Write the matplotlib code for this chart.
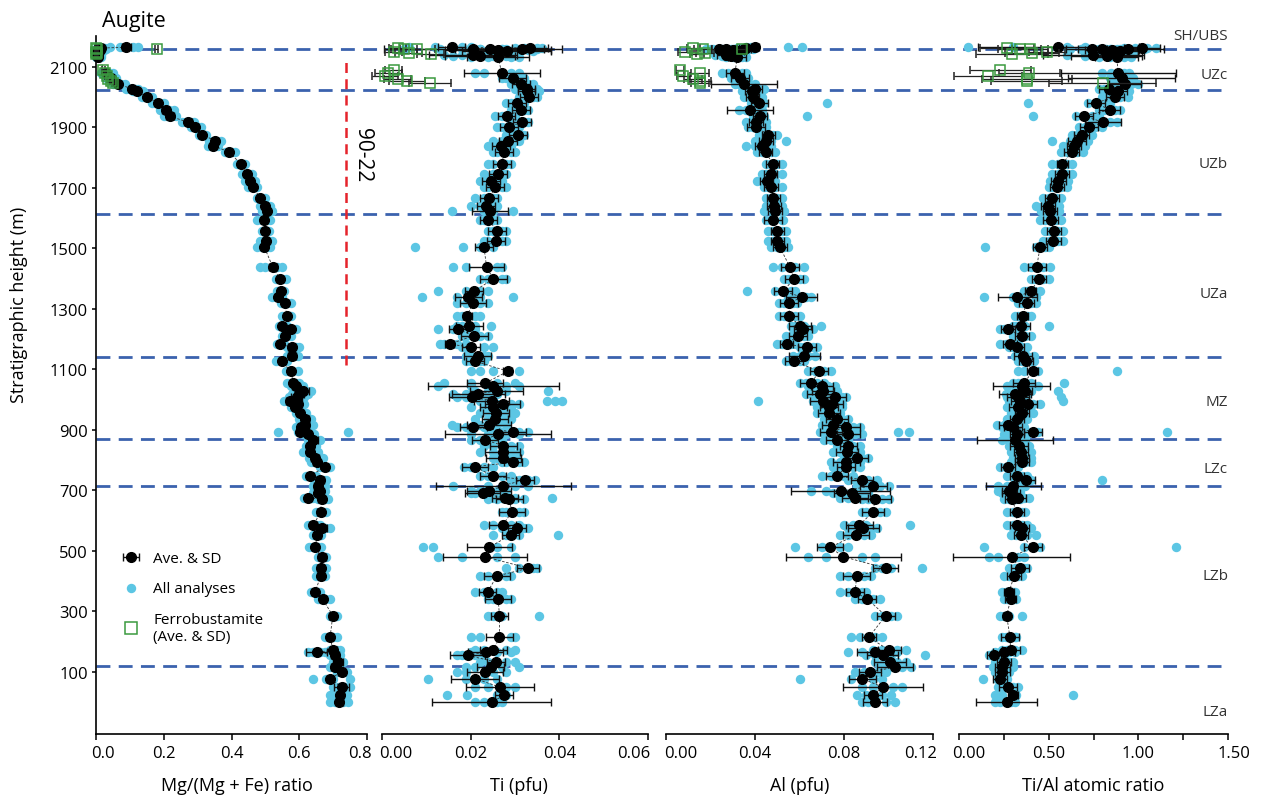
import matplotlib.pyplot as plt
from matplotlib.lines import Line2D
from matplotlib.transforms import ScaledTranslation

plt.rcParams['font.family'] = ['Open Sans', 'DejaVu Sans']

W, H = 1263, 803
CYAN = '#5cc6e4'
BLUE = '#3b62ae'
GREEN = '#3a9a3f'
RED = '#e5232b'

# stratigraphic height (m) of each augite sample (SH/UBS group first)
heights = [2165, 2162, 2160, 2160, 2158, 2156, 2154, 2140, 2136, 2132,
           2080, 2064, 2044, 2027, 2020, 2000, 1981, 1958, 1937, 1917,
           1901, 1876, 1856, 1840, 1818, 1779, 1746, 1724, 1702, 1667,
           1641, 1625, 1595, 1557, 1526, 1504, 1438, 1399, 1359, 1339,
           1319, 1278, 1243, 1232, 1212, 1184, 1173, 1146, 1127, 1094,
           1054, 1046, 1030, 1019, 1008, 997, 986, 975, 956, 936,
           917, 909, 894, 887, 867, 848, 828, 807, 793, 779,
           747, 736, 716, 697, 692, 674, 672, 628, 586, 575,
           553, 512, 481, 443, 417, 364, 341, 286, 215, 171,
           166, 155, 133, 116, 100, 78, 50, 23, 1]

# Mg/(Mg+Fe)
mg_ave = [0.090, 0.015, 0.010, 0.008, 0.005, 0.012, 0.003, 0.006, 0.004, 0.006,
          0.030, 0.045, 0.066, 0.105, 0.120, 0.150, 0.184, 0.206, 0.218, 0.272,
          0.292, 0.314, 0.351, 0.346, 0.394, 0.427, 0.447, 0.455, 0.464, 0.484,
          0.499, 0.504, 0.496, 0.499, 0.501, 0.497, 0.522, 0.543, 0.546, 0.536,
          0.558, 0.563, 0.550, 0.575, 0.558, 0.543, 0.578, 0.579, 0.548, 0.575,
          0.583, 0.590, 0.612, 0.600, 0.592, 0.573, 0.595, 0.587, 0.602, 0.617,
          0.617, 0.605, 0.602, 0.627, 0.642, 0.632, 0.632, 0.646, 0.651, 0.676,
          0.632, 0.661, 0.656, 0.660, 0.655, 0.627, 0.666, 0.663, 0.642, 0.666,
          0.653, 0.647, 0.666, 0.663, 0.663, 0.647, 0.669, 0.699, 0.691, 0.700,
          0.651, 0.705, 0.715, 0.705, 0.725, 0.691, 0.725, 0.720, 0.718]
mg_sd = [0.012, 0.008, 0.008, 0.006, 0.004, 0.010, 0.003, 0.005, 0.003, 0.004,
         0.006, 0.006, 0.008, 0.006, 0.007, 0.006, 0.008, 0.010, 0.012, 0.010,
         0.008, 0.006, 0.008, 0.009, 0.007, 0.008, 0.007, 0.006, 0.006, 0.006,
         0.008, 0.007, 0.009, 0.006, 0.008, 0.008, 0.012, 0.010, 0.008, 0.009,
         0.009, 0.007, 0.006, 0.007, 0.006, 0.006, 0.010, 0.012, 0.009, 0.008,
         0.008, 0.010, 0.016, 0.014, 0.015, 0.012, 0.010, 0.009, 0.010, 0.012,
         0.012, 0.010, 0.010, 0.009, 0.012, 0.008, 0.010, 0.012, 0.010, 0.008,
         0.010, 0.012, 0.012, 0.010, 0.009, 0.008, 0.010, 0.010, 0.010, 0.016,
         0.010, 0.009, 0.012, 0.010, 0.008, 0.008, 0.008, 0.010, 0.009, 0.010,
         0.030, 0.012, 0.014, 0.012, 0.010, 0.008, 0.021, 0.010, 0.010]
mg_all = [[0.04, 0.07, 0.11, 0.125], [0.005, 0.01, 0.02, 0.028], [0.0, 0.005, 0.015, 0.03],
          [0.0, 0.004, 0.012, 0.02], [0.0, 0.003, 0.008, 0.012], [0.0, 0.008, 0.018, 0.025],
          [0.0, 0.002, 0.005, 0.008], [0.0, 0.003, 0.01, 0.015], [0.0, 0.002, 0.006, 0.01],
          [0.0, 0.004, 0.009, 0.014],
          [0.015, 0.025, 0.04, 0.05], [0.03, 0.04, 0.055, 0.06], [0.05, 0.06, 0.075, 0.085],
          [0.09, 0.10, 0.115, 0.125], [0.11, 0.115, 0.13, 0.14], [0.135, 0.145, 0.16, 0.165],
          [0.165, 0.175, 0.19, 0.2], [0.19, 0.2, 0.215, 0.23], [0.2, 0.21, 0.225, 0.235],
          [0.255, 0.265, 0.28, 0.29], [0.28, 0.29, 0.3, 0.31], [0.305, 0.31, 0.32, 0.325],
          [0.335, 0.345, 0.355, 0.37], [0.33, 0.34, 0.35, 0.36], [0.38, 0.39, 0.4, 0.41],
          [0.415, 0.425, 0.43, 0.44], [0.43, 0.44, 0.45, 0.46], [0.44, 0.45, 0.46, 0.47],
          [0.45, 0.46, 0.47, 0.475], [0.475, 0.48, 0.49, 0.5], [0.485, 0.495, 0.505, 0.515],
          [0.49, 0.5, 0.51, 0.52], [0.475, 0.49, 0.505, 0.515], [0.49, 0.495, 0.505, 0.51],
          [0.485, 0.495, 0.51, 0.52], [0.475, 0.49, 0.505, 0.515], [0.485, 0.5, 0.535, 0.55],
          [0.53, 0.54, 0.55, 0.56], [0.535, 0.54, 0.55, 0.555], [0.52, 0.53, 0.545, 0.55],
          [0.545, 0.555, 0.565, 0.575], [0.55, 0.56, 0.57, 0.575], [0.54, 0.545, 0.56, 0.565],
          [0.56, 0.57, 0.58, 0.59], [0.55, 0.555, 0.565, 0.575], [0.535, 0.54, 0.55, 0.555],
          [0.565, 0.575, 0.59, 0.6], [0.565, 0.575, 0.585, 0.595], [0.53, 0.545, 0.555, 0.565],
          [0.56, 0.57, 0.58, 0.595], [0.565, 0.575, 0.59, 0.6], [0.575, 0.585, 0.6, 0.61],
          [0.595, 0.605, 0.62, 0.635], [0.58, 0.595, 0.61, 0.625], [0.57, 0.585, 0.6, 0.615],
          [0.555, 0.565, 0.58, 0.59], [0.58, 0.59, 0.605, 0.615], [0.575, 0.58, 0.595, 0.6],
          [0.59, 0.6, 0.61, 0.62], [0.6, 0.61, 0.625, 0.635], [0.6, 0.61, 0.625, 0.64],
          [0.59, 0.6, 0.615, 0.625], [0.538, 0.595, 0.61, 0.745], [0.61, 0.62, 0.635, 0.645],
          [0.625, 0.635, 0.65, 0.66], [0.62, 0.63, 0.64, 0.65], [0.61, 0.625, 0.64, 0.655],
          [0.63, 0.64, 0.655, 0.67], [0.635, 0.645, 0.66, 0.665], [0.66, 0.67, 0.685, 0.69],
          [0.62, 0.63, 0.64, 0.65], [0.645, 0.655, 0.67, 0.68], [0.64, 0.65, 0.665, 0.675],
          [0.645, 0.655, 0.665, 0.675], [0.64, 0.65, 0.66, 0.67], [0.615, 0.625, 0.635, 0.64],
          [0.655, 0.66, 0.675, 0.685], [0.65, 0.66, 0.67, 0.68], [0.625, 0.635, 0.65, 0.66],
          [0.655, 0.665, 0.675, 0.69], [0.64, 0.65, 0.66, 0.665], [0.63, 0.64, 0.655, 0.665],
          [0.655, 0.66, 0.675, 0.68], [0.65, 0.66, 0.67, 0.68], [0.65, 0.655, 0.67, 0.675],
          [0.635, 0.645, 0.655, 0.66], [0.655, 0.665, 0.675, 0.69], [0.69, 0.695, 0.705, 0.71],
          [0.675, 0.685, 0.7, 0.71], [0.69, 0.7, 0.71, 0.72], [0.625, 0.64, 0.66, 0.675],
          [0.69, 0.7, 0.71, 0.72], [0.7, 0.71, 0.72, 0.73], [0.69, 0.7, 0.71, 0.715],
          [0.71, 0.72, 0.73, 0.74], [0.64, 0.68, 0.7, 0.75], [0.7, 0.715, 0.735, 0.75],
          [0.69, 0.71, 0.73, 0.74], [0.69, 0.705, 0.73, 0.745]]

# Ti (pfu)
ti_ave = [0.0157, 0.0334, 0.0205, 0.0315, 0.0244, 0.0262, 0.0281, 0.0205, 0.0221, 0.0262,
          0.0270, 0.0295, 0.0313, 0.0326, 0.0326, 0.0332, 0.0304, 0.0313, 0.0281, 0.0315,
          0.0287, 0.0306, 0.0285, 0.0268, 0.0276, 0.0270, 0.0261, 0.0246, 0.0255, 0.0242,
          0.0235, 0.0244, 0.0240, 0.0260, 0.0257, 0.0230, 0.0236, 0.0251, 0.0208, 0.0195,
          0.0205, 0.0192, 0.0197, 0.0171, 0.0208, 0.0153, 0.0200, 0.0216, 0.0210, 0.0284,
          0.0232, 0.0251, 0.0259, 0.0217, 0.0202, 0.0247, 0.0272, 0.0251, 0.0257, 0.0255,
          0.0242, 0.0206, 0.0295, 0.0262, 0.0232, 0.0274, 0.0272, 0.0274, 0.0296, 0.0210,
          0.0250, 0.0323, 0.0274, 0.0242, 0.0227, 0.0277, 0.0287, 0.0293, 0.0272, 0.0304,
          0.0290, 0.0242, 0.0232, 0.0330, 0.0259, 0.0238, 0.0262, 0.0265, 0.0265, 0.0251,
          0.0234, 0.0193, 0.0257, 0.0245, 0.0232, 0.0210, 0.0266, 0.0276, 0.0247]
ti_sd = [0.003, 0.004, 0.020, 0.005, 0.008, 0.012, 0.010, 0.010, 0.008, 0.007,
         0.0086, 0.003, 0.002, 0.002, 0.002, 0.002, 0.002, 0.002, 0.002, 0.002,
         0.002, 0.002, 0.002, 0.002, 0.002, 0.002, 0.002, 0.002, 0.002, 0.002,
         0.002, 0.004, 0.002, 0.002, 0.002, 0.002, 0.004, 0.003, 0.002, 0.003,
         0.003, 0.001, 0.003, 0.002, 0.003, 0.001, 0.002, 0.003, 0.002, 0.001,
         0.004, 0.0148, 0.006, 0.006, 0.005, 0.004, 0.004, 0.003, 0.003, 0.003,
         0.005, 0.003, 0.003, 0.012, 0.003, 0.003, 0.004, 0.004, 0.002, 0.003,
         0.003, 0.002, 0.0153, 0.005, 0.004, 0.003, 0.003, 0.003, 0.003, 0.002,
         0.002, 0.0051, 0.0094, 0.0025, 0.003, 0.002, 0.003, 0.002, 0.003, 0.003,
         0.004, 0.004, 0.002, 0.003, 0.004, 0.0055, 0.0076, 0.002, 0.0135]
ti_all = [[0.006, 0.012, 0.018, 0.020], [0.030, 0.032, 0.035, 0.036], [0.005, 0.013, 0.022, 0.027],
          [0.028, 0.030, 0.033, 0.035], [0.018, 0.022, 0.027, 0.030], [0.020, 0.024, 0.030, 0.033],
          [0.022, 0.026, 0.031, 0.034], [0.014, 0.018, 0.023, 0.026], [0.016, 0.020, 0.025, 0.028],
          [0.020, 0.024, 0.029, 0.031],
          [0.021, 0.023, 0.029, 0.031], [0.027, 0.028, 0.031, 0.032], [0.029, 0.030, 0.033, 0.034],
          [0.030, 0.031, 0.034, 0.035], [0.031, 0.032, 0.034, 0.0355], [0.031, 0.032, 0.034, 0.035],
          [0.028, 0.029, 0.031, 0.032], [0.029, 0.030, 0.032, 0.033], [0.0255, 0.027, 0.029, 0.030],
          [0.029, 0.030, 0.032, 0.033], [0.026, 0.027, 0.030, 0.031], [0.028, 0.029, 0.031, 0.032],
          [0.025, 0.027, 0.030, 0.031], [0.024, 0.026, 0.028, 0.029], [0.025, 0.026, 0.029, 0.030],
          [0.024, 0.025, 0.028, 0.029], [0.023, 0.025, 0.027, 0.028], [0.022, 0.023, 0.026, 0.027],
          [0.023, 0.024, 0.027, 0.028], [0.021, 0.023, 0.025, 0.026], [0.020, 0.022, 0.025, 0.026],
          [0.0157, 0.023, 0.025, 0.0296], [0.022, 0.023, 0.025, 0.026], [0.024, 0.025, 0.027, 0.028],
          [0.023, 0.024, 0.027, 0.028], [0.0074, 0.0183, 0.022, 0.025], [0.016, 0.019, 0.026, 0.027],
          [0.022, 0.024, 0.027, 0.028], [0.0127, 0.019, 0.022, 0.024], [0.009, 0.017, 0.022, 0.0296],
          [0.017, 0.019, 0.022, 0.024], [0.017, 0.018, 0.021, 0.022], [0.017, 0.018, 0.021, 0.0245],
          [0.0127, 0.016, 0.019, 0.021], [0.018, 0.019, 0.022, 0.024], [0.013, 0.014, 0.017, 0.019],
          [0.018, 0.019, 0.023, 0.025], [0.019, 0.020, 0.023, 0.024], [0.019, 0.020, 0.022, 0.023],
          [0.020, 0.022, 0.025, 0.031], [0.014, 0.020, 0.026, 0.030], [0.0127, 0.020, 0.028, 0.031],
          [0.021, 0.024, 0.028, 0.0375], [0.016, 0.019, 0.024, 0.026], [0.017, 0.019, 0.023, 0.025],
          [0.022, 0.0372, 0.039, 0.0405], [0.024, 0.026, 0.029, 0.031], [0.020, 0.023, 0.027, 0.029],
          [0.022, 0.024, 0.028, 0.030], [0.021, 0.024, 0.027, 0.029], [0.0157, 0.022, 0.026, 0.028],
          [0.017, 0.019, 0.023, 0.025], [0.025, 0.027, 0.031, 0.033], [0.020, 0.024, 0.028, 0.031],
          [0.020, 0.022, 0.025, 0.027], [0.023, 0.025, 0.029, 0.031], [0.022, 0.025, 0.029, 0.031],
          [0.025, 0.026, 0.029, 0.0305], [0.027, 0.028, 0.031, 0.032], [0.0185, 0.020, 0.023, 0.025],
          [0.022, 0.024, 0.027, 0.029], [0.029, 0.031, 0.033, 0.0345], [0.016, 0.024, 0.030, 0.033],
          [0.020, 0.022, 0.026, 0.028], [0.020, 0.021, 0.025, 0.027], [0.025, 0.027, 0.030, 0.0383],
          [0.024, 0.026, 0.030, 0.032], [0.027, 0.028, 0.031, 0.032], [0.023, 0.025, 0.029, 0.031],
          [0.027, 0.029, 0.032, 0.033], [0.025, 0.028, 0.031, 0.0396], [0.0093, 0.0116, 0.026, 0.029],
          [0.0127, 0.018, 0.026, 0.030], [0.028, 0.031, 0.034, 0.035], [0.022, 0.024, 0.028, 0.029],
          [0.021, 0.023, 0.026, 0.027], [0.024, 0.025, 0.028, 0.029], [0.024, 0.025, 0.027, 0.0355],
          [0.020, 0.022, 0.029, 0.030], [0.021, 0.023, 0.028, 0.030], [0.020, 0.022, 0.026, 0.029],
          [0.017, 0.018, 0.021, 0.023], [0.022, 0.024, 0.028, 0.030], [0.019, 0.021, 0.027, 0.031],
          [0.017, 0.019, 0.025, 0.028], [0.0104, 0.019, 0.023, 0.026], [0.021, 0.024, 0.028, 0.030],
          [0.0147, 0.0192, 0.026, 0.028], [0.021, 0.023, 0.026, 0.027]]

# Al (pfu)
al_ave = [0.040, 0.036, 0.024, 0.035, 0.027, 0.030, 0.032, 0.027, 0.029, 0.032,
          0.0310, 0.0333, 0.0350, 0.0400, 0.0385, 0.0390, 0.0420, 0.0378, 0.0422, 0.0404,
          0.0404, 0.0460, 0.0450, 0.0430, 0.0448, 0.0480, 0.0470, 0.0453, 0.0472, 0.0482,
          0.0485, 0.0490, 0.0480, 0.0500, 0.0500, 0.0512, 0.0557, 0.0575, 0.0527, 0.0610,
          0.0554, 0.0554, 0.0602, 0.0617, 0.0595, 0.0542, 0.0632, 0.0622, 0.0577, 0.0689,
          0.0652, 0.0700, 0.0707, 0.0692, 0.0760, 0.0707, 0.0745, 0.0734, 0.0734, 0.0767,
          0.0750, 0.0810, 0.0742, 0.0820, 0.0767, 0.0820, 0.0812, 0.0857, 0.0810, 0.0810,
          0.0770, 0.0880, 0.0932, 0.0785, 0.0835, 0.0850, 0.0940, 0.0930, 0.0869, 0.0887,
          0.0854, 0.0737, 0.0797, 0.0987, 0.0857, 0.0850, 0.0905, 0.0987, 0.0912, 0.1004,
          0.0940, 0.0974, 0.1007, 0.1029, 0.0917, 0.0882, 0.0974, 0.0929, 0.0940]
al_sd = [0.002, 0.003, 0.004, 0.003, 0.004, 0.003, 0.003, 0.004, 0.003, 0.004,
         0.004, 0.004, 0.015, 0.003, 0.003, 0.003, 0.004, 0.0105, 0.003, 0.003,
         0.004, 0.003, 0.003, 0.003, 0.003, 0.003, 0.003, 0.003, 0.003, 0.003,
         0.003, 0.003, 0.004, 0.003, 0.003, 0.003, 0.004, 0.004, 0.004, 0.007,
         0.004, 0.004, 0.005, 0.004, 0.004, 0.003, 0.004, 0.007, 0.004, 0.004,
         0.005, 0.005, 0.005, 0.006, 0.005, 0.006, 0.005, 0.004, 0.005, 0.005,
         0.005, 0.006, 0.005, 0.005, 0.005, 0.004, 0.005, 0.005, 0.006, 0.004,
         0.005, 0.005, 0.006, 0.0223, 0.008, 0.006, 0.007, 0.005, 0.006, 0.007,
         0.006, 0.006, 0.0258, 0.0055, 0.006, 0.004, 0.004, 0.004, 0.003, 0.005,
         0.008, 0.007, 0.007, 0.008, 0.005, 0.006, 0.018, 0.004, 0.0055]
al_all = [[0.036, 0.038, 0.055, 0.061], [0.032, 0.034, 0.038, 0.040], [0.018, 0.021, 0.027, 0.029],
          [0.031, 0.033, 0.037, 0.039], [0.020, 0.025, 0.030, 0.032], [0.026, 0.028, 0.032, 0.034],
          [0.028, 0.030, 0.034, 0.036], [0.022, 0.025, 0.030, 0.032], [0.025, 0.027, 0.031, 0.034],
          [0.027, 0.030, 0.034, 0.036],
          [0.025, 0.028, 0.034, 0.036], [0.029, 0.031, 0.035, 0.037], [0.031, 0.033, 0.037, 0.040],
          [0.036, 0.038, 0.042, 0.044], [0.034, 0.037, 0.040, 0.042], [0.035, 0.037, 0.041, 0.043],
          [0.038, 0.040, 0.044, 0.0725], [0.033, 0.036, 0.040, 0.043], [0.039, 0.041, 0.044, 0.0635],
          [0.036, 0.039, 0.042, 0.045], [0.037, 0.039, 0.043, 0.045], [0.042, 0.044, 0.048, 0.050],
          [0.040, 0.043, 0.047, 0.054], [0.036, 0.040, 0.045, 0.047], [0.041, 0.043, 0.047, 0.049],
          [0.045, 0.047, 0.050, 0.052], [0.043, 0.045, 0.049, 0.052], [0.041, 0.044, 0.047, 0.049],
          [0.044, 0.046, 0.049, 0.052], [0.045, 0.047, 0.050, 0.052], [0.045, 0.047, 0.050, 0.052],
          [0.044, 0.047, 0.051, 0.053], [0.045, 0.047, 0.052, 0.0527], [0.046, 0.048, 0.052, 0.054],
          [0.046, 0.048, 0.052, 0.054], [0.047, 0.050, 0.053, 0.055], [0.048, 0.052, 0.058, 0.062],
          [0.053, 0.055, 0.060, 0.062], [0.0363, 0.049, 0.056, 0.058], [0.055, 0.058, 0.063, 0.065],
          [0.051, 0.053, 0.057, 0.059], [0.051, 0.053, 0.058, 0.060], [0.056, 0.058, 0.062, 0.0695],
          [0.057, 0.059, 0.064, 0.066], [0.054, 0.057, 0.062, 0.064], [0.050, 0.052, 0.056, 0.058],
          [0.060, 0.062, 0.066, 0.068], [0.057, 0.060, 0.064, 0.067], [0.054, 0.056, 0.060, 0.062],
          [0.064, 0.067, 0.071, 0.074], [0.060, 0.063, 0.068, 0.071], [0.064, 0.067, 0.073, 0.076],
          [0.065, 0.068, 0.074, 0.077], [0.063, 0.066, 0.072, 0.075], [0.070, 0.073, 0.079, 0.081],
          [0.0415, 0.066, 0.074, 0.077], [0.069, 0.072, 0.077, 0.079], [0.068, 0.071, 0.076, 0.079],
          [0.068, 0.071, 0.076, 0.078], [0.071, 0.074, 0.079, 0.082], [0.070, 0.073, 0.078, 0.080],
          [0.075, 0.078, 0.084, 0.087], [0.069, 0.072, 0.1044, 0.1093], [0.076, 0.079, 0.085, 0.088],
          [0.071, 0.074, 0.079, 0.082], [0.077, 0.080, 0.084, 0.087], [0.075, 0.078, 0.084, 0.087],
          [0.080, 0.083, 0.088, 0.091], [0.074, 0.078, 0.084, 0.087], [0.075, 0.078, 0.084, 0.087],
          [0.070, 0.074, 0.080, 0.084], [0.082, 0.085, 0.091, 0.095], [0.086, 0.090, 0.096, 0.100],
          [0.065, 0.072, 0.085, 0.090], [0.075, 0.080, 0.087, 0.091], [0.078, 0.082, 0.088, 0.092],
          [0.088, 0.091, 0.097, 0.100], [0.088, 0.090, 0.096, 0.099], [0.080, 0.084, 0.090, 0.1097],
          [0.082, 0.086, 0.092, 0.095], [0.078, 0.082, 0.089, 0.092], [0.058, 0.070, 0.078, 0.082],
          [0.064, 0.072, 0.088, 0.094], [0.094, 0.097, 0.101, 0.115], [0.078, 0.082, 0.089, 0.092],
          [0.078, 0.082, 0.088, 0.090], [0.085, 0.088, 0.093, 0.096], [0.094, 0.097, 0.101, 0.104],
          [0.083, 0.087, 0.094, 0.097], [0.093, 0.097, 0.104, 0.108], [0.082, 0.088, 0.099, 0.104],
          [0.090, 0.094, 0.101, 0.1164], [0.094, 0.098, 0.104, 0.108], [0.096, 0.100, 0.106, 0.110],
          [0.085, 0.089, 0.095, 0.099], [0.060, 0.083, 0.093, 0.097], [0.088, 0.093, 0.102, 0.106],
          [0.086, 0.090, 0.097, 0.101], [0.088, 0.091, 0.099, 0.103]]

# Ti/Al atomic ratio
tial_ave = [0.554, 1.019, 0.743, 0.944, 0.796, 0.851, 0.898, 0.749, 0.823, 0.879,
            0.888, 0.907, 0.926, 0.838, 0.888, 0.870, 0.762, 0.840, 0.697, 0.805,
            0.727, 0.684, 0.656, 0.641, 0.628, 0.576, 0.573, 0.554, 0.545, 0.517,
            0.498, 0.507, 0.511, 0.530, 0.526, 0.452, 0.433, 0.446, 0.400, 0.325,
            0.377, 0.355, 0.344, 0.275, 0.350, 0.284, 0.322, 0.355, 0.374, 0.411,
            0.362, 0.350, 0.368, 0.312, 0.330, 0.340, 0.386, 0.331, 0.350, 0.322,
            0.275, 0.300, 0.411, 0.322, 0.312, 0.336, 0.344, 0.350, 0.350, 0.275,
            0.325, 0.372, 0.303, 0.281, 0.290, 0.331, 0.294, 0.322, 0.322, 0.350,
            0.346, 0.411, 0.294, 0.340, 0.307, 0.279, 0.288, 0.266, 0.284, 0.288,
            0.251, 0.195, 0.251, 0.242, 0.242, 0.229, 0.273, 0.301, 0.266]
tial_sd = [0.45, 0.10, 0.08, 0.20, 0.20, 0.15, 0.10, 0.28, 0.20, 0.12,
           0.32, 0.30, 0.09, 0.06, 0.05, 0.05, 0.05, 0.06, 0.05, 0.10,
           0.05, 0.04, 0.05, 0.04, 0.04, 0.03, 0.04, 0.04, 0.04, 0.04,
           0.04, 0.04, 0.04, 0.04, 0.04, 0.04, 0.05, 0.04, 0.03, 0.11,
           0.04, 0.03, 0.05, 0.04, 0.04, 0.04, 0.04, 0.05, 0.04, 0.03,
           0.06, 0.16, 0.04, 0.09, 0.06, 0.05, 0.05, 0.05, 0.04, 0.04,
           0.05, 0.05, 0.05, 0.04, 0.21, 0.05, 0.04, 0.04, 0.04, 0.04,
           0.04, 0.05, 0.155, 0.04, 0.05, 0.04, 0.04, 0.04, 0.04, 0.04,
           0.04, 0.05, 0.327, 0.05, 0.04, 0.03, 0.03, 0.02, 0.05, 0.05,
           0.06, 0.04, 0.04, 0.04, 0.04, 0.04, 0.05, 0.03, 0.169]
tial_all = [[0.05, 0.30, 0.60, 0.70], [0.92, 0.98, 1.05, 1.10], [0.62, 0.68, 0.78, 0.82],
            [0.85, 0.90, 0.98, 1.03], [0.70, 0.75, 0.84, 0.88], [0.75, 0.80, 0.90, 0.95],
            [0.80, 0.86, 0.94, 0.98], [0.60, 0.70, 0.80, 0.86], [0.70, 0.78, 0.87, 0.92],
            [0.78, 0.84, 0.92, 0.96],
            [0.80, 0.85, 0.92, 0.95], [0.84, 0.88, 0.94, 0.97], [0.86, 0.90, 0.96, 1.0],
            [0.78, 0.81, 0.87, 0.90], [0.83, 0.86, 0.92, 0.95], [0.80, 0.84, 0.90, 0.94],
            [0.387, 0.72, 0.80, 0.84], [0.78, 0.81, 0.87, 0.90], [0.411, 0.65, 0.74, 0.78],
            [0.74, 0.77, 0.84, 0.88], [0.67, 0.70, 0.76, 0.80], [0.63, 0.66, 0.71, 0.74],
            [0.517, 0.62, 0.69, 0.72], [0.58, 0.61, 0.67, 0.70], [0.57, 0.60, 0.66, 0.69],
            [0.52, 0.55, 0.60, 0.63], [0.52, 0.55, 0.60, 0.63], [0.51, 0.53, 0.58, 0.61],
            [0.50, 0.52, 0.57, 0.60], [0.47, 0.50, 0.54, 0.57], [0.43, 0.47, 0.53, 0.56],
            [0.46, 0.48, 0.53, 0.56], [0.45, 0.48, 0.54, 0.57], [0.48, 0.51, 0.55, 0.58],
            [0.47, 0.50, 0.55, 0.58], [0.145, 0.43, 0.48, 0.50], [0.36, 0.40, 0.47, 0.51],
            [0.40, 0.42, 0.47, 0.50], [0.36, 0.38, 0.42, 0.45], [0.141, 0.30, 0.36, 0.43],
            [0.33, 0.35, 0.40, 0.43], [0.31, 0.33, 0.38, 0.40], [0.30, 0.32, 0.37, 0.50],
            [0.23, 0.25, 0.30, 0.33], [0.30, 0.33, 0.37, 0.40], [0.23, 0.26, 0.31, 0.33],
            [0.28, 0.30, 0.35, 0.38], [0.31, 0.33, 0.38, 0.42], [0.33, 0.35, 0.40, 0.42],
            [0.33, 0.36, 0.44, 0.879], [0.30, 0.33, 0.40, 0.587], [0.27, 0.31, 0.39, 0.44],
            [0.31, 0.34, 0.40, 0.55], [0.26, 0.29, 0.34, 0.38], [0.27, 0.30, 0.36, 0.57],
            [0.28, 0.31, 0.37, 0.58], [0.32, 0.36, 0.41, 0.45], [0.27, 0.30, 0.36, 0.39],
            [0.29, 0.32, 0.38, 0.41], [0.27, 0.30, 0.35, 0.38], [0.21, 0.25, 0.30, 0.34],
            [0.24, 0.27, 0.33, 0.36], [0.35, 0.38, 0.44, 1.158], [0.25, 0.29, 0.35, 0.38],
            [0.24, 0.28, 0.34, 0.37], [0.28, 0.31, 0.36, 0.39], [0.29, 0.32, 0.37, 0.40],
            [0.30, 0.33, 0.37, 0.40], [0.29, 0.32, 0.37, 0.40], [0.23, 0.26, 0.30, 0.33],
            [0.27, 0.30, 0.35, 0.38], [0.31, 0.34, 0.40, 0.799], [0.22, 0.27, 0.33, 0.37],
            [0.22, 0.25, 0.31, 0.34], [0.24, 0.27, 0.31, 0.34], [0.28, 0.31, 0.36, 0.39],
            [0.25, 0.28, 0.32, 0.34], [0.27, 0.30, 0.35, 0.37], [0.27, 0.30, 0.35, 0.38],
            [0.30, 0.33, 0.37, 0.40], [0.29, 0.32, 0.38, 0.43], [0.14, 0.36, 0.45, 1.21],
            [0.17, 0.22, 0.33, 0.36], [0.28, 0.31, 0.36, 0.38], [0.25, 0.28, 0.33, 0.35],
            [0.24, 0.26, 0.30, 0.31], [0.25, 0.27, 0.30, 0.32], [0.23, 0.25, 0.28, 0.35],
            [0.24, 0.26, 0.31, 0.32], [0.24, 0.27, 0.31, 0.35], [0.20, 0.23, 0.28, 0.31],
            [0.17, 0.18, 0.22, 0.25], [0.20, 0.22, 0.28, 0.30], [0.19, 0.22, 0.27, 0.30],
            [0.20, 0.22, 0.26, 0.28], [0.135, 0.21, 0.25, 0.27], [0.22, 0.25, 0.30, 0.33],
            [0.20, 0.24, 0.32, 0.637], [0.20, 0.23, 0.29, 0.31]]

# ferrobustamite averages
fb_heights = [2162, 2160, 2158, 2150, 2145, 2142, 2090, 2080, 2071, 2060, 2052, 2046]
fb_mg = [0.000, 0.002, 0.179, 0.001, 0.003, 0.000, 0.022, 0.028, 0.031, 0.036, 0.045, 0.051]
fb_mg_sd = [0.003, 0.004, 0.005, 0.003, 0.004, 0.003, 0.004, 0.005, 0.004, 0.005, 0.004, 0.004]
fb_ti = [0.0035, 0.0050, 0.0080, 0.0026, 0.0060, 0.0110, 0.0026, 0.0014, 0.0007, 0.0035, 0.0056, 0.0108]
fb_ti_sd = [0.002, 0.003, 0.004, 0.002, 0.003, 0.003, 0.002, 0.003, 0.003, 0.003, 0.004, 0.0047]
fb_al = [0.0123, 0.0168, 0.034, 0.0085, 0.0175, 0.014, 0.0063, 0.0153, 0.0078, 0.012, 0.0153, 0.0153]
fb_al_sd = [0.003, 0.004, 0.002, 0.003, 0.004, 0.003, 0.002, 0.004, 0.003, 0.004, 0.005, 0.004]
fb_tial = [0.266, 0.340, 0.396, 0.489, 0.405, 0.294, 0.229, 0.392, 0.163, 0.381, 0.377, 0.801]
fb_tial_sd = [0.15, 0.12, 0.10, 0.10, 0.15, 0.20, 0.17, 0.17, 0.19, 0.25, 0.20, 0.30]

# unit boundaries and labels
boundaries = [2160, 2025, 1614, 1142, 870, 714, 121]
zone_names = ['SH/UBS', 'UZc', 'UZb', 'UZa', 'MZ', 'LZc', 'LZb', 'LZa']
zone_heights = [2204, 2074, 1779, 1350, 993, 774, 418, -31]

YLIM = (-105, 2202)


def px_axes(fig, x0, x1, y0=37, y1=735):
    return fig.add_axes([x0 / W, 1 - y1 / H, (x1 - x0) / W, (y1 - y0) / H])


def draw_panel(ax, ave, sd, all_vals, fb_ave, fb_sd, xlim, xticks, xticklabels,
               end_shift=(0, 0), first=False):
    xs, ys = [], []
    for h, vals in zip(heights, all_vals):
        xs.extend(vals)
        ys.extend([h] * len(vals))
    sc = ax.scatter(xs, ys, s=46, color=CYAN, linewidths=0, zorder=2, clip_on=False)
    ax.plot(ave, heights, color='#333333', lw=0.6, dashes=(3, 2), zorder=3)
    eb = ax.errorbar(ave, heights, xerr=sd, fmt='o', color='black', ms=7,
                     ecolor='#111111', elinewidth=1, capsize=3, capthick=1, zorder=4)
    fb = ax.errorbar(fb_ave, fb_heights, xerr=fb_sd, fmt='s', mfc='none', mec=GREEN,
                     mew=1.1, ms=7, ecolor='#222222', elinewidth=0.9, capsize=3,
                     capthick=0.9, zorder=5)
    for cont in (eb, fb):
        for art in cont.get_children():
            art.set_clip_on(False)

    ax.set_xlim(*xlim)
    ax.set_ylim(*YLIM)
    ax.set_facecolor('none')
    ax.spines['top'].set_visible(False)
    ax.spines['right'].set_visible(False)
    for sp in ax.spines.values():
        sp.set_linewidth(1.2)
    ax.set_xticks(xticks)
    ax.set_xticklabels(xticklabels)
    ax.tick_params(axis='x', direction='out', length=4, width=1.1, labelsize=12, pad=4)
    # nudge the end labels inwards so neighbouring panels do not collide
    labels = ax.get_xticklabels()
    for lab, dx in ((labels[0], end_shift[0]), (labels[-1], end_shift[1])):
        lab.set_transform(lab.get_transform() +
                          ScaledTranslation(dx / 100, 0, ax.figure.dpi_scale_trans))
    if first:
        ax.set_yticks(range(100, 2101, 200))
        ax.tick_params(axis='y', direction='out', length=3, width=1.1, labelsize=12, pad=3)
    else:
        ax.spines['left'].set_visible(False)
        ax.set_yticks([])
    return eb, sc


def main():
    fig = plt.figure(figsize=(W / 100, H / 100), dpi=100)

    # background axes for the unit boundaries across all panels
    bg = px_axes(fig, 96, 1228)
    bg.set_xlim(0, 1)
    bg.set_ylim(*YLIM)
    bg.axis('off')
    for b in boundaries:
        bg.axhline(b, color=BLUE, lw=2, dashes=(5, 3), zorder=1)
    for name, zh in zip(zone_names, zone_heights):
        bg.text(1.0, zh, name, ha='right', va='center', fontsize=11, color='#333333')

    ax1 = px_axes(fig, 96, 367)
    ax2 = px_axes(fig, 382, 648)
    ax3 = px_axes(fig, 666, 933)
    ax4 = px_axes(fig, 959, 1228)

    eb, sc = draw_panel(ax1, mg_ave, mg_sd, mg_all, fb_mg, fb_mg_sd, (0, 0.8),
                        [0, 0.2, 0.4, 0.6, 0.8], ['0.0', '0.2', '0.4', '0.6', '0.8'],
                        end_shift=(7, -7), first=True)
    draw_panel(ax2, ti_ave, ti_sd, ti_all, fb_ti, fb_ti_sd, (0, 0.06),
               [0, 0.02, 0.04, 0.06], ['0.00', '0.02', '0.04', '0.06'],
               end_shift=(14, -14))
    draw_panel(ax3, al_ave, al_sd, al_all, fb_al, fb_al_sd, (0, 0.12),
               [0, 0.04, 0.08, 0.12], ['0.00', '0.04', '0.08', '0.12'],
               end_shift=(15, -12))
    draw_panel(ax4, tial_ave, tial_sd, tial_all, fb_tial, fb_tial_sd, (0, 1.5),
               [0, 0.25, 0.5, 0.75, 1.0, 1.25, 1.5],
               ['0.00', '', '0.50', '', '1.00', '', '1.50'],
               end_shift=(10, 6))

    # drill core 90-22
    ax1.plot([0.737, 0.737], [1115, 2126], color=RED, lw=1.8, dashes=(4, 2.5), zorder=6)
    ax1.text(0.787, 1812, '90-22', rotation=-90, ha='center', va='center', fontsize=15)

    fig.text(134 / W, 1 - 27 / H, 'Augite', ha='center', va='baseline', fontsize=15.5)
    fig.text(19 / W, 1 - 305 / H, 'Stratigraphic height (m)', rotation=90,
             ha='center', va='center', fontsize=13)
    for xc, lab in [(237, 'Mg/(Mg + Fe) ratio'), (519, 'Ti (pfu)'),
                    (800, 'Al (pfu)'), (1093, 'Ti/Al atomic ratio')]:
        fig.text(xc / W, 1 - 786 / H, lab, ha='center', va='center', fontsize=13)

    fb_handle = Line2D([], [], marker='s', ls='none', mfc='none', mec=GREEN, mew=1.1, ms=8)
    fig.legend([eb, sc, fb_handle], ['Ave. & SD', 'All analyses', 'Ferrobustamite\n(Ave. & SD)'],
               loc='upper left', bbox_to_anchor=(121 / W, 1 - 552 / H), frameon=False,
               fontsize=11, handlelength=1.3, handletextpad=0.8, labelspacing=1.0,
               borderpad=0, borderaxespad=0)

    fig.savefig('out.png', dpi=100)


if __name__ == '__main__':
    main()
